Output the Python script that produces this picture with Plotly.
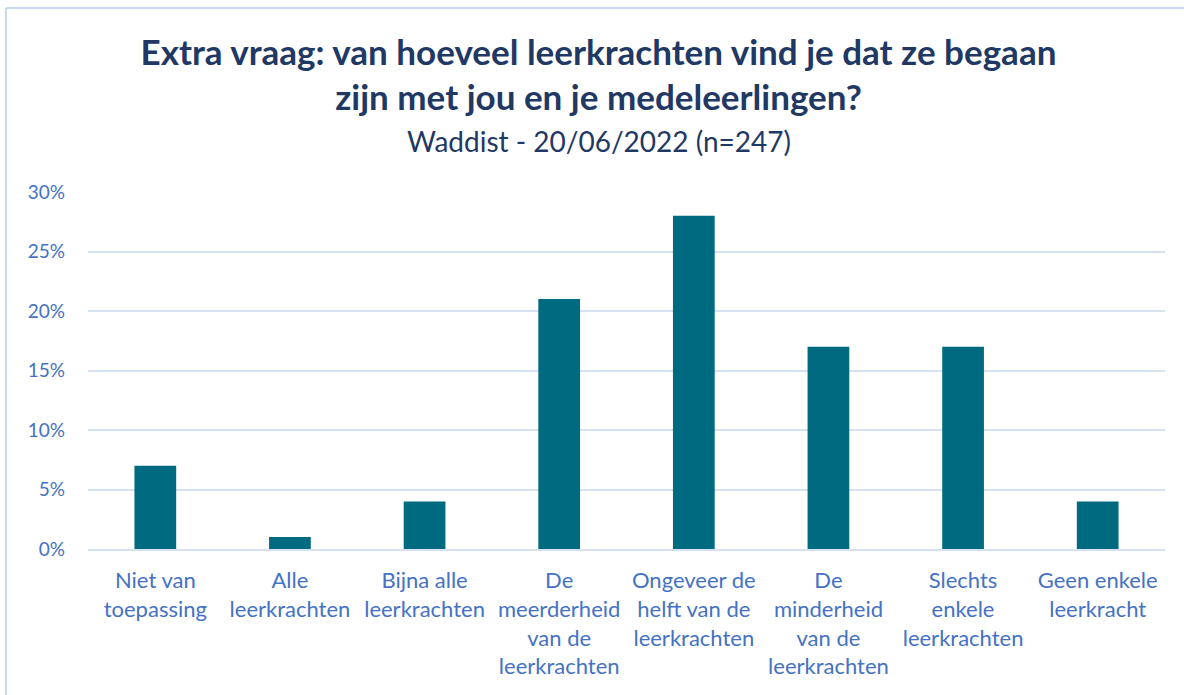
import plotly.graph_objects as go

# survey answers (share of respondents)
categories = [
    "Niet van<br>toepassing",
    "Alle<br>leerkrachten",
    "Bijna alle<br>leerkrachten",
    "De<br>meerderheid<br>van de<br>leerkrachten",
    "Ongeveer de<br>helft van de<br>leerkrachten",
    "De<br>minderheid<br>van de<br>leerkrachten",
    "Slechts<br>enkele<br>leerkrachten",
    "Geen enkele<br>leerkracht",
]
shares = [0.07, 0.01, 0.04, 0.21, 0.28, 0.17, 0.17, 0.04]
y_ticks = [0, 0.05, 0.10, 0.15, 0.20, 0.25, 0.30]

title_text = "Extra vraag: van hoeveel leerkrachten vind je dat ze begaan<br>zijn met jou en je medeleerlingen?"
subtitle_text = "Waddist - 20/06/2022 (n=247)"

BAR = "#006A80"
TICK = "#4472C4"
TITLE = "#1F3864"
GRID = "#D6E1F1"
FONT = "Lato"

W, H = 1184, 695
ml, mr, mt, mb = 88, 19, 192, 146
pw, ph = W - ml - mr, H - mt - mb


def px(x):
    return (x - ml) / pw


def py(y):
    return (H - mb - y) / ph


fig = go.Figure()
fig.add_trace(go.Bar(x=categories, y=shares, marker=dict(color=BAR, line=dict(width=0)),
                     width=0.31, showlegend=False))

fig.update_layout(
    width=W, height=H,
    margin=dict(l=ml, r=mr, t=mt, b=mb),
    paper_bgcolor="white", plot_bgcolor="white",
    font=dict(family=FONT, color=TICK, size=20),
    title=dict(text=f"<b>{title_text}</b>", x=598.5 / W, xanchor="center",
               yref="container", y=(H - 64.5) / H, yanchor="middle",
               font=dict(family=FONT, size=35, color=TITLE)),
)
fig.add_annotation(text=subtitle_text, xref="paper", yref="paper", x=px(599), y=py(141),
                   xanchor="center", yanchor="middle", showarrow=False,
                   font=dict(family=FONT, size=28, color=TITLE))

fig.update_yaxes(range=[0, 0.30], tickvals=y_ticks, tickformat=".0%", showgrid=True,
                 gridcolor=GRID, gridwidth=2, zeroline=False, showline=False,
                 ticklabelstandoff=22, tickfont=dict(size=19, color=TICK))
fig.update_xaxes(showline=True, linecolor=GRID, linewidth=2, showgrid=False,
                 ticks="", tickfont=dict(size=22, color=TICK), ticklabelstandoff=11)

# light outline of the chart box (left and top edges visible)
fig.add_shape(type="line", xref="paper", yref="paper", x0=px(6), x1=px(6), y0=py(8), y1=py(700),
              line=dict(color="#C9DAF0", width=2))
fig.add_shape(type="line", xref="paper", yref="paper", x0=px(6), x1=px(1190), y0=py(8), y1=py(8),
              line=dict(color="#C9DAF0", width=2))

# drop the default page margin so the figure sits at the window's corner
fig.write_html("out.html", config={"displayModeBar": False},
               post_script="document.body.style.margin='0';")
